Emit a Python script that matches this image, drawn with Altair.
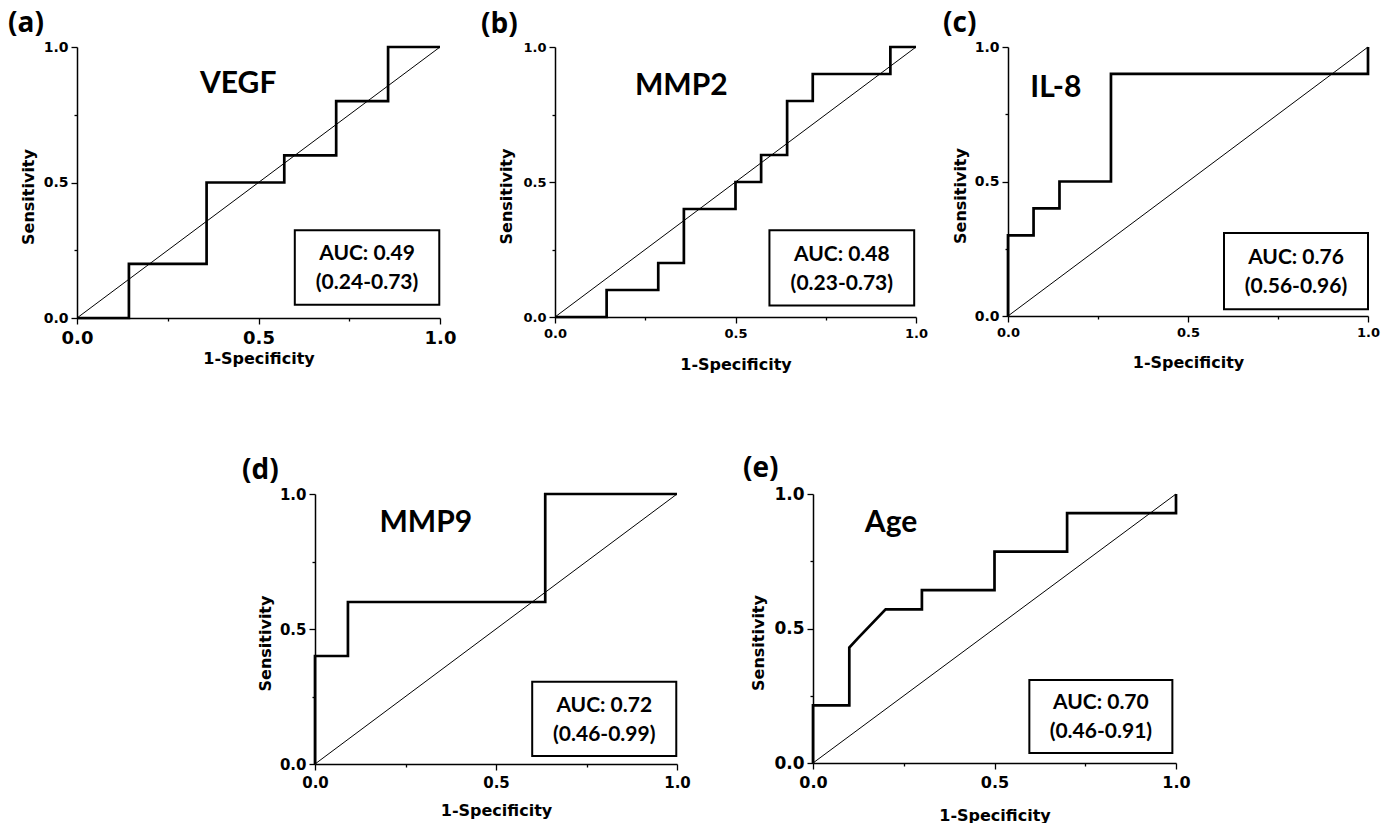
import altair as alt
import pandas as pd

# ---------------- data ----------------
panel_labels = ["(a)", "(b)", "(c)", "(d)", "(e)"]
markers = ["VEGF", "MMP2", "IL-8", "MMP9", "Age"]
auc_values = ["AUC: 0.49", "AUC: 0.48", "AUC: 0.76", "AUC: 0.72", "AUC: 0.70"]
auc_ci = ["(0.24-0.73)", "(0.23-0.73)", "(0.56-0.96)", "(0.46-0.99)", "(0.46-0.91)"]

vegf_fpr = [0.0, 0.143, 0.143, 0.357, 0.357, 0.571, 0.571, 0.714, 0.714, 0.857, 0.857, 1.0]
vegf_tpr = [0.0, 0.0, 0.2, 0.2, 0.5, 0.5, 0.6, 0.6, 0.8, 0.8, 1.0, 1.0]

mmp2_fpr = [0.0, 0.143, 0.143, 0.286, 0.286, 0.357, 0.357, 0.5, 0.5, 0.571, 0.571,
            0.643, 0.643, 0.714, 0.714, 0.929, 0.929, 1.0]
mmp2_tpr = [0.0, 0.0, 0.1, 0.1, 0.2, 0.2, 0.4, 0.4, 0.5, 0.5, 0.6,
            0.6, 0.8, 0.8, 0.9, 0.9, 1.0, 1.0]

il8_fpr = [0.0, 0.0, 0.071, 0.071, 0.143, 0.143, 0.286, 0.286, 1.0, 1.0]
il8_tpr = [0.0, 0.3, 0.3, 0.4, 0.4, 0.5, 0.5, 0.9, 0.9, 1.0]

mmp9_fpr = [0.0, 0.0, 0.091, 0.091, 0.636, 0.636, 1.0]
mmp9_tpr = [0.0, 0.4, 0.4, 0.6, 0.6, 1.0, 1.0]

age_fpr = [0.0, 0.0, 0.1, 0.1, 0.124, 0.2, 0.3, 0.3, 0.5, 0.5, 0.7, 0.7, 1.0, 1.0]
age_tpr = [0.0, 0.214, 0.214, 0.429, 0.464, 0.571, 0.571, 0.643, 0.643, 0.786, 0.786, 0.929, 0.929, 1.0]

curves = [(vegf_fpr, vegf_tpr), (mmp2_fpr, mmp2_tpr), (il8_fpr, il8_tpr),
          (mmp9_fpr, mmp9_tpr), (age_fpr, age_tpr)]

diag_x = [0.0, 1.0]
diag_y = [0.0, 1.0]
tick_values = [0.0, 0.25, 0.5, 0.75, 1.0]

# ---------------- layout / style (per panel) ----------------
layout = [
    dict(w=363, h=271, dx=-69, xl=18, yl=14, lp=5, xt=40, yt=-49, nx=0.444, ny=0.862, bx=(0.60, 0.998), by=(0.049, 0.324)),
    dict(w=361, h=270, dx=-74, xl=13, yl=13, lp=4, xt=47, yt=-49, nx=0.350, ny=0.856, bx=(0.594, 0.995), by=(0.043, 0.321)),
    dict(w=360, h=269, dx=-65, xl=13, yl=14, lp=4, xt=46, yt=-48, nx=0.133, ny=0.849, bx=(0.60, 1.0), by=(0.025, 0.309)),
    dict(w=362, h=270, dx=-73, xl=15, yl=15, lp=5, xt=46, yt=-50, nx=0.306, ny=0.891, bx=(0.60, 0.998), by=(0.030, 0.305)),
    dict(w=363, h=269, dx=-70, xl=16, yl=17, lp=5, xt=52, yt=-55, nx=0.215, ny=0.891, bx=(0.596, 0.99), by=(0.037, 0.309)),
]

LABEL_EXPR = "(datum.value == 0.25 || datum.value == 0.75) ? '' : format(datum.value, '.1f')"
MINOR_TEST = "datum.value == 0.25 || datum.value == 0.75"
TICK_SIZE = {"condition": {"test": MINOR_TEST, "value": 3}, "value": 6}


def make_panel(i):
    L = layout[i]
    fpr, tpr = curves[i]
    sx = alt.Scale(domain=[0, 1], nice=False, zero=False)
    sy = alt.Scale(domain=[0, 1], nice=False, zero=False)

    x_axis = alt.Axis(values=tick_values, labelExpr=LABEL_EXPR, title="1-Specificity",
                      labelFontSize=L["xl"], labelPadding=L["lp"], labelFlush=False,
                      tickSize=TICK_SIZE,
                      titleX=L["w"] / 2, titleY=L["xt"], titleBaseline="middle", titleAlign="center")
    y_axis = alt.Axis(values=tick_values, labelExpr=LABEL_EXPR, title="Sensitivity",
                      labelFontSize=L["yl"], labelPadding=3, labelFlush=False,
                      tickSize=TICK_SIZE,
                      titleX=L["yt"], titleY=L["h"] / 2 + 14, titleBaseline="middle",
                      titleAlign="center", titleAngle=270)

    def X(f):
        return alt.X(f, type="quantitative", scale=sx, axis=x_axis)

    def Y(f):
        return alt.Y(f, type="quantitative", scale=sy, axis=y_axis)

    diag_df = pd.DataFrame({"fpr": diag_x, "tpr": diag_y})
    curve_df = pd.DataFrame({"fpr": fpr, "tpr": tpr, "step": list(range(len(fpr)))})
    box_df = pd.DataFrame({"fpr": [L["bx"][0]], "fpr2": [L["bx"][1]],
                           "tpr": [L["by"][0]], "tpr2": [L["by"][1]]})
    txt_df = pd.DataFrame({"fpr": [(L["bx"][0] + L["bx"][1]) / 2],
                           "tpr": [(L["by"][0] + L["by"][1]) / 2],
                           "auc": [auc_values[i]], "ci": [auc_ci[i]]})
    name_df = pd.DataFrame({"fpr": [L["nx"]], "tpr": [L["ny"]], "name": [markers[i]]})

    diag = alt.Chart(diag_df).mark_line(color="black", strokeWidth=1).encode(
        x=X("fpr"), y=Y("tpr"))
    curve = alt.Chart(curve_df).mark_line(color="black", strokeWidth=2.7, clip=False,
                                          strokeJoin="miter").encode(
        x=X("fpr"), y=Y("tpr"), order="step:Q")
    box = alt.Chart(box_df).mark_rect(fill="white", stroke="black", strokeWidth=2).encode(
        x=X("fpr"), x2="fpr2:Q", y=Y("tpr"), y2="tpr2:Q")
    auc1 = alt.Chart(txt_df).mark_text(font="Lato", fontWeight="bold", fontSize=21,
                                       color="black", baseline="middle", dy=-13).encode(
        x=X("fpr"), y=Y("tpr"), text="auc:N")
    auc2 = alt.Chart(txt_df).mark_text(font="Lato", fontWeight="bold", fontSize=21,
                                       color="black", baseline="middle", dy=16).encode(
        x=X("fpr"), y=Y("tpr"), text="ci:N")
    name = alt.Chart(name_df).mark_text(font="Lato", fontWeight="bold", fontSize=30,
                                        color="black", baseline="middle").encode(
        x=X("fpr"), y=Y("tpr"), text="name:N")

    return alt.layer(diag, curve, box, auc1, auc2, name).properties(
        width=L["w"], height=L["h"],
        title=alt.TitleParams(text=panel_labels[i], anchor="start", frame="group",
                              font="Open Sans", fontSize=28, fontWeight="bold", color="black",
                              baseline="alphabetic", offset=21, dx=L["dx"], dy=41),
    )


pa, pb, pc, pd_, pe = [make_panel(i) for i in range(5)]

spacer = alt.Chart(pd.DataFrame({"v": []})).mark_point(opacity=0).properties(width=165, height=10)

top = alt.hconcat(alt.hconcat(pa, pb, spacing=25), pc, spacing=15)
bottom = alt.hconcat(spacer, alt.hconcat(pd_, pe, spacing=52), spacing=0)

chart = alt.vconcat(top, bottom, spacing=83).properties(
    padding={"left": 8, "top": 10, "right": 5, "bottom": 0},
    background="white",
).configure_view(stroke=None).configure_axis(
    grid=False, domainColor="black", domainWidth=1.5, tickColor="black", tickWidth=1.3,
    labelColor="black", labelFont="DejaVu Sans", labelFontWeight="bold",
    titleColor="black", titleFont="DejaVu Sans", titleFontWeight="bold", titleFontSize=16,
)

chart.save("out.html", embed_options={"renderer": "svg", "actions": False})
